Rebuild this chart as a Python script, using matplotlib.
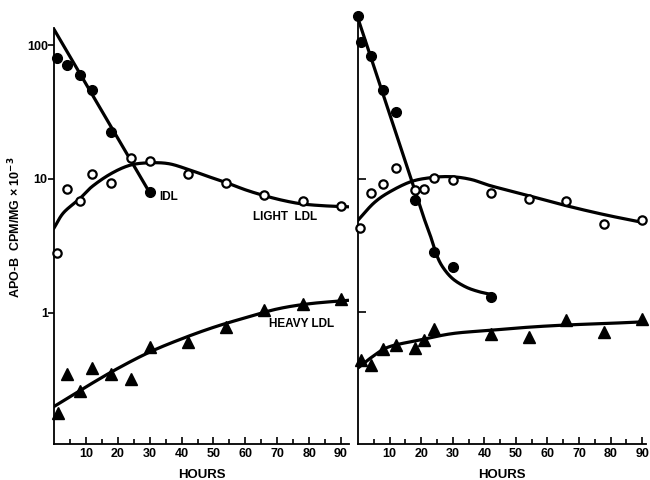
import numpy as np
import matplotlib
matplotlib.use("Agg")
import matplotlib.pyplot as plt
from matplotlib.ticker import FixedLocator, NullFormatter

plt.rcParams['font.family'] = ['Liberation Sans', 'DejaVu Sans']
plt.rcParams['font.weight'] = 'bold'

# ---------------- data ----------------
# Left panel
L_idl_x = [1, 4, 8, 12, 18, 30]
L_idl_y = [80, 71, 60, 46, 22.5, 8.0]
L_idl_line_x = [0, 30]
L_idl_line_y = [131, 7.9]

L_light_x = [1, 4, 8, 12, 18, 24, 30, 42, 54, 66, 78, 90]
L_light_y = [2.8, 8.4, 6.9, 10.8, 9.3, 14.4, 13.6, 10.8, 9.3, 7.6, 6.9, 6.3]
L_light_curve_x = [0, 3, 8, 12, 18, 24, 30, 36, 42, 48, 54, 60, 66, 72, 78, 85, 92]
L_light_curve_y = [4.3, 5.6, 7.1, 8.8, 11.0, 12.7, 13.2, 13.0, 11.8, 10.5, 9.4, 8.3, 7.5, 6.9, 6.5, 6.3, 6.2]

L_heavy_x = [1.3, 4, 8, 12, 18, 24, 30, 42, 54, 66, 78, 90]
L_heavy_y = [0.18, 0.35, 0.26, 0.39, 0.35, 0.32, 0.56, 0.61, 0.79, 1.05, 1.17, 1.28]
L_heavy_curve_x = [0, 10, 20, 30, 40, 50, 60, 70, 80, 92]
L_heavy_curve_y = [0.20, 0.28, 0.385, 0.51, 0.64, 0.78, 0.92, 1.07, 1.17, 1.24]

# Right panel
R_idl_x = [0, 1, 4, 8, 12, 18, 24, 30, 42]
R_idl_y = [169, 108, 84, 47, 31.7, 7.0, 2.84, 2.17, 1.30]
R_idl_curve_x = [0, 10, 18, 21, 23, 25, 27, 30, 34, 38, 42]
R_idl_curve_y = [161, 31, 8.2, 5.0, 3.7, 2.65, 2.15, 1.78, 1.55, 1.43, 1.36]

R_light_x = [0.5, 4, 8, 12, 18, 21, 24, 30, 42, 54, 66, 78, 90]
R_light_y = [4.3, 7.9, 9.2, 12.2, 8.3, 8.4, 10.1, 9.9, 7.9, 7.1, 6.8, 4.6, 4.9]
R_light_curve_x = [0, 5, 10, 17, 24, 30, 36, 42, 54, 66, 78, 90.5]
R_light_curve_y = [4.9, 6.6, 8.0, 9.6, 10.3, 10.4, 9.9, 8.9, 7.5, 6.3, 5.4, 4.7]

R_heavy_x = [1, 4, 8, 12, 18, 21, 24, 42, 54, 66, 78, 90]
R_heavy_y = [0.435, 0.40, 0.53, 0.565, 0.54, 0.615, 0.75, 0.68, 0.65, 0.87, 0.71, 0.885]
R_heavy_curve_x = [0, 5, 10, 20, 30, 42, 54, 66, 78, 90.5]
R_heavy_curve_y = [0.38, 0.47, 0.55, 0.62, 0.69, 0.73, 0.77, 0.80, 0.82, 0.845]

x_ticks_major = [10, 20, 30, 40, 50, 60, 70, 80, 90]
x_ticks_minor = [5, 15, 25, 35, 45, 55, 65, 75, 85]
y_ticks = [1, 10, 100]
y_tick_labels = ['1', '10', '100']


def smooth(xs, ys, n=30):
    """Catmull-Rom rendering of a hand-drawn curve through knots (log-y)."""
    x = np.asarray(xs, float)
    y = np.log10(np.asarray(ys, float))
    px = np.concatenate([[2 * x[0] - x[1]], x, [2 * x[-1] - x[-2]]])
    py = np.concatenate([[2 * y[0] - y[1]], y, [2 * y[-1] - y[-2]]])
    ox, oy = [], []
    for i in range(1, len(px) - 2):
        t = np.linspace(0, 1, n, endpoint=False)
        for arr, out in ((px, ox), (py, oy)):
            p0, p1, p2, p3 = arr[i - 1], arr[i], arr[i + 1], arr[i + 2]
            out.extend(0.5 * ((2 * p1) + (-p0 + p2) * t
                              + (2 * p0 - 5 * p1 + 4 * p2 - p3) * t ** 2
                              + (-p0 + 3 * p1 - 3 * p2 + p3) * t ** 3))
    ox.append(x[-1]); oy.append(y[-1])
    return np.array(ox), 10 ** np.array(oy)


fig = plt.figure(figsize=(6.5, 4.8), dpi=100)
W, H = 650.0, 480.0
axL = fig.add_axes([54 / W, 1 - 444 / H, 295 / W, 416 / H])
axR = fig.add_axes([358 / W, 1 - 444 / H, 288 / W, 431 / H])

lw = 2.3
ms_fill = 7.0
ms_open = 6.0
ms_tri = 8.0

# Left
axL.plot(L_idl_line_x, L_idl_line_y, color='black', lw=lw, solid_capstyle='round', zorder=2)
axL.plot(*smooth(L_light_curve_x, L_light_curve_y), color='black', lw=lw, zorder=2)
axL.plot(*smooth(L_heavy_curve_x, L_heavy_curve_y), color='black', lw=lw, zorder=2)
axL.plot(L_idl_x, L_idl_y, 'o', color='black', ms=ms_fill, ls='none', zorder=3, clip_on=False)
axL.plot(L_light_x, L_light_y, 'o', mfc='white', mec='black', mew=1.6, ms=ms_open, ls='none', zorder=3, clip_on=False)
axL.plot(L_heavy_x, L_heavy_y, '^', color='black', ms=ms_tri, ls='none', zorder=3, clip_on=False)

# Right
axR.plot(*smooth(R_idl_curve_x, R_idl_curve_y), color='black', lw=lw, zorder=2)
axR.plot(*smooth(R_light_curve_x, R_light_curve_y), color='black', lw=lw, zorder=2)
axR.plot(*smooth(R_heavy_curve_x, R_heavy_curve_y), color='black', lw=lw, zorder=2)
axR.plot(R_idl_x, R_idl_y, 'o', color='black', ms=ms_fill, ls='none', zorder=3, clip_on=False)
axR.plot(R_light_x, R_light_y, 'o', mfc='white', mec='black', mew=1.6, ms=ms_open, ls='none', zorder=3, clip_on=False)
axR.plot(R_heavy_x, R_heavy_y, '^', color='black', ms=ms_tri, ls='none', zorder=3, clip_on=False)

for ax, xmax, ylim in ((axL, 92.5, (0.105, 134)), (axR, 91.2, (0.102, 177))):
    ax.set_yscale('log')
    ax.set_xlim(0, xmax)
    ax.set_ylim(*ylim)
    for s in ('top', 'right'):
        ax.spines[s].set_visible(False)
    for s in ('left', 'bottom'):
        ax.spines[s].set_linewidth(1.3)
    ax.xaxis.set_major_locator(FixedLocator(x_ticks_major))
    ax.xaxis.set_minor_locator(FixedLocator(x_ticks_minor))
    ax.set_xticklabels([str(v) for v in x_ticks_major], fontsize=9, fontweight='bold')
    ax.tick_params(axis='x', which='major', direction='in', length=5, width=1.2, pad=3)
    ax.tick_params(axis='x', which='minor', direction='in', length=3.5, width=1.2)
    ax.yaxis.set_minor_locator(FixedLocator([]))
    ax.yaxis.set_minor_formatter(NullFormatter())
    ax.set_xlabel('HOURS', fontsize=9.5, fontweight='bold', labelpad=6)
    ax.patch.set_alpha(0)

axL.yaxis.set_major_locator(FixedLocator(y_ticks))
axL.set_yticklabels(y_tick_labels, fontsize=9, fontweight='bold')
axL.tick_params(axis='y', direction='out', length=4, width=1.2, pad=0.5)
axL.set_ylabel('APO-B  CPM/MG × 10$^{-3}$', fontsize=9, fontweight='bold')
axL.yaxis.set_label_coords(-31 / 295, 0.52)

axR.yaxis.set_major_locator(FixedLocator([1, 10]))
axR.set_yticklabels([])
axR.tick_params(axis='y', direction='in', length=6, width=1.2)

axL.text(33, 7.3, 'IDL', fontsize=8.5, fontweight='bold', ha='left', va='center')
axL.text(62.5, 5.2, 'LIGHT  LDL', fontsize=8.5, fontweight='bold', ha='left', va='center')
axL.text(67.5, 0.82, 'HEAVY LDL', fontsize=8.5, fontweight='bold', ha='left', va='center')

fig.savefig('out.png', dpi=100)
